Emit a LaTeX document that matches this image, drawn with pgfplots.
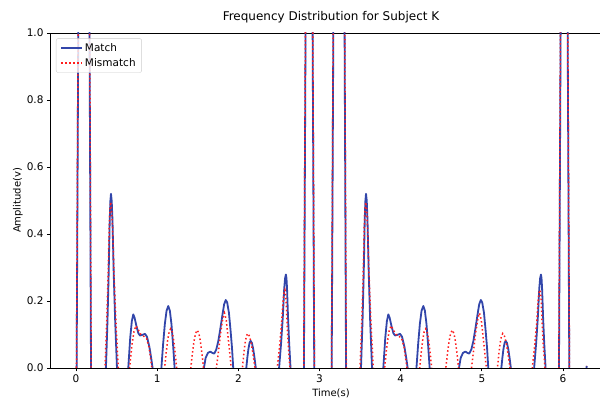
\documentclass[border=0pt]{standalone}
\usepackage{fontspec}
\setmainfont{DejaVu Sans}
\usepackage{pgfplots}
\pgfplotsset{compat=1.18}
\definecolor{matchblue}{RGB}{50,70,170}
\definecolor{mismatchred}{RGB}{255,30,30}
\begin{document}
\begin{tikzpicture}[font=\fontsize{10}{12}\selectfont]
\begin{axis}[
  at={(50.5pt,30pt)}, anchor=south west,
  width=561pt, height=335pt, scale only axis,
  xmin=-0.314, xmax=6.597, ymin=0, ymax=1,
  xtick={0,1,2,3,4,5,6},
  ytick={0,0.2,0.4,0.6,0.8,1.0},
  /pgf/number format/assume math mode=true,
  ticklabel style={font=\fontsize{10.5}{12}\selectfont},
  yticklabel style={/pgf/number format/fixed,/pgf/number format/fixed zerofill,/pgf/number format/precision=1},
  tick align=outside, xtick pos=left, ytick pos=left,
  major tick length=3.5pt,
  tick style={black, line width=0.8pt},
  axis line style={black, line width=0.8pt},
  title={Frequency Distribution for Subject K},
  title style={font=\fontsize{12}{14}\selectfont, at={(axis description cs:0.5,1.018)}, anchor=base},
  xlabel={Time(s)},
  every axis x label/.style={at={(axis description cs:0.5,-0.0746)}, anchor=center},
  ylabel={Amplitude(v)},
  every axis y label/.style={at={(axis description cs:-0.058,0.5)}, anchor=center, rotate=90},
  legend style={at={(axis description cs:0.0098,0.984)}, anchor=north west, draw=black!20, fill=white, fill opacity=0.8, text opacity=1, rounded corners=2pt, font=\fontsize{10.5}{12}\selectfont, inner xsep=4pt, inner ysep=3pt, row sep=1pt, cells={anchor=west}},
  legend image code/.code={\draw[#1] (0pt,0pt) -- (21pt,0pt);},
]
\addplot[matchblue, line width=1.8pt, line join=round] coordinates {
(0.008,0) (0.030,1.1) (0.097,3) (0.165,1.1) (0.185,0)
(0.28,-0.5)
(0.369,0) (0.388,0.140) (0.403,0.286) (0.4155,0.442) (0.4236,0.499) (0.431,0.520) (0.440,0.499) (0.4495,0.442) (0.4643,0.286) (0.4828,0.140) (0.505,0)
(0.575,-0.5)
(0.644,0) (0.668,0.09) (0.688,0.14) (0.706,0.160) (0.722,0.150) (0.745,0.125) (0.768,0.104) (0.788,0.097) (0.82,0.099) (0.85,0.102) (0.875,0.093) (0.905,0.062) (0.925,0.032) (0.944,0)
(1.0,-0.5)
(1.052,0) (1.0732,0.071) (1.0945,0.131) (1.1158,0.171) (1.137,0.185) (1.1565,0.171) (1.176,0.131) (1.1955,0.071) (1.215,0)
(1.40,-0.5)
(1.576,0) (1.597,0.030) (1.625,0.045) (1.655,0.049) (1.68,0.045) (1.703,0.043) (1.728,0.055) (1.753,0.08) (1.78,0.12) (1.805,0.16) (1.825,0.19) (1.845,0.203) (1.862,0.196) (1.884,0.165) (1.905,0.11) (1.922,0.06) (1.937,0)
(2.02,-0.5)
(2.098,0) (2.111,0.031) (2.1245,0.057) (2.138,0.075) (2.151,0.081) (2.167,0.075) (2.183,0.057) (2.199,0.031) (2.215,0)
(2.36,-0.5)
(2.502,0) (2.527,0.075) (2.548,0.153) (2.565,0.237) (2.576,0.268) (2.586,0.279) (2.593,0.268) (2.600,0.237) (2.612,0.153) (2.626,0.075) (2.643,0)
(2.72,-0.5)
(2.808,0) (2.830,1.1) (2.871,3) (2.913,1.1) (2.935,0)
(3.04,-0.5)
(3.150,0) (3.172,1.1) (3.239,3) (3.307,1.1) (3.327,0)
(3.42,-0.5)
(3.511,0) (3.530,0.140) (3.545,0.286) (3.557,0.442) (3.565,0.499) (3.573,0.520) (3.582,0.499) (3.591,0.442) (3.606,0.286) (3.624,0.140) (3.647,0)
(3.717,-0.5)
(3.786,0) (3.810,0.09) (3.830,0.14) (3.848,0.160) (3.864,0.150) (3.887,0.125) (3.910,0.104) (3.930,0.097) (3.962,0.099) (3.992,0.102) (4.017,0.093) (4.047,0.062) (4.067,0.032) (4.086,0)
(4.14,-0.5)
(4.194,0) (4.215,0.071) (4.236,0.131) (4.257,0.171) (4.279,0.185) (4.298,0.171) (4.318,0.131) (4.337,0.071) (4.357,0)
(4.54,-0.5)
(4.718,0) (4.739,0.030) (4.767,0.045) (4.797,0.049) (4.822,0.045) (4.845,0.043) (4.870,0.055) (4.895,0.08) (4.922,0.12) (4.947,0.16) (4.967,0.19) (4.987,0.203) (5.004,0.196) (5.026,0.165) (5.047,0.11) (5.064,0.06) (5.079,0)
(5.16,-0.5)
(5.240,0) (5.253,0.031) (5.266,0.057) (5.280,0.075) (5.293,0.081) (5.309,0.075) (5.325,0.057) (5.341,0.031) (5.357,0)
(5.50,-0.5)
(5.644,0) (5.669,0.075) (5.690,0.153) (5.707,0.237) (5.718,0.268) (5.728,0.279) (5.735,0.268) (5.742,0.237) (5.754,0.153) (5.768,0.075) (5.785,0)
(5.86,-0.5)
(5.950,0) (5.972,1.1) (6.013,3) (6.055,1.1) (6.077,0)
(6.18,-0.5) (6.286,-0.02) (6.291,0.006)
};
\addlegendentry{Match}
\addplot[mismatchred, line width=1.5pt, dash pattern=on 1.5pt off 2.5pt] coordinates {
(0.006,0) (0.028,1.1) (0.097,3) (0.167,1.1) (0.188,0)
(0.27,-0.5)
(0.357,0) (0.378,0.134) (0.3955,0.272) (0.4095,0.421) (0.4186,0.475) (0.427,0.495) (0.4383,0.475) (0.4505,0.421) (0.4693,0.272) (0.4928,0.134) (0.521,0)
(0.59,-0.5)
(0.660,0) (0.69,0.07) (0.715,0.11) (0.739,0.126) (0.765,0.115) (0.80,0.10) (0.84,0.094) (0.87,0.088) (0.90,0.062) (0.935,0)
(1.01,-0.5)
(1.092,0) (1.1105,0.045) (1.129,0.083) (1.1475,0.108) (1.166,0.117) (1.1845,0.108) (1.203,0.083) (1.2215,0.045) (1.240,0)
(1.33,-0.5)
(1.414,0) (1.434,0.043) (1.454,0.080) (1.474,0.104) (1.494,0.113) (1.513,0.104) (1.5325,0.080) (1.552,0.043) (1.571,0)
(1.65,-0.5)
(1.730,0) (1.76,0.06) (1.785,0.11) (1.81,0.15) (1.829,0.164) (1.85,0.145) (1.87,0.10) (1.89,0.055) (1.913,0)
(1.98,-0.5)
(2.050,0) (2.066,0.039) (2.0825,0.073) (2.099,0.095) (2.115,0.103) (2.1375,0.095) (2.16,0.073) (2.1825,0.039) (2.205,0)
(2.34,-0.5)
(2.479,0) (2.5075,0.063) (2.5313,0.128) (2.5503,0.198) (2.5626,0.224) (2.574,0.233) (2.5813,0.224) (2.5893,0.198) (2.6015,0.128) (2.6167,0.063) (2.635,0)
(2.72,-0.5)
(2.806,0) (2.828,1.1) (2.871,3) (2.915,1.1) (2.937,0)
(3.04,-0.5)
(3.148,0) (3.170,1.1) (3.239,3) (3.309,1.1) (3.330,0)
(3.42,-0.5)
(3.499,0) (3.520,0.134) (3.537,0.272) (3.551,0.421) (3.560,0.475) (3.569,0.495) (3.580,0.475) (3.592,0.421) (3.611,0.272) (3.634,0.134) (3.663,0)
(3.73,-0.5)
(3.802,0) (3.832,0.07) (3.857,0.11) (3.881,0.126) (3.907,0.115) (3.942,0.10) (3.982,0.094) (4.012,0.088) (4.042,0.062) (4.077,0)
(4.15,-0.5)
(4.234,0) (4.252,0.045) (4.271,0.083) (4.289,0.108) (4.308,0.117) (4.326,0.108) (4.345,0.083) (4.363,0.045) (4.382,0)
(4.47,-0.5)
(4.556,0) (4.576,0.043) (4.596,0.080) (4.616,0.104) (4.636,0.113) (4.655,0.104) (4.674,0.080) (4.694,0.043) (4.713,0)
(4.79,-0.5)
(4.872,0) (4.902,0.06) (4.927,0.11) (4.952,0.15) (4.971,0.164) (4.992,0.145) (5.012,0.10) (5.032,0.055) (5.055,0)
(5.12,-0.5)
(5.192,0) (5.208,0.039) (5.224,0.073) (5.241,0.095) (5.257,0.103) (5.279,0.095) (5.302,0.073) (5.324,0.039) (5.347,0)
(5.48,-0.5)
(5.621,0) (5.649,0.063) (5.673,0.128) (5.692,0.198) (5.704,0.224) (5.716,0.233) (5.723,0.224) (5.731,0.198) (5.743,0.128) (5.758,0.063) (5.777,0)
(5.86,-0.5)
(5.948,0) (5.970,1.1) (6.013,3) (6.057,1.1) (6.079,0)
(6.18,-0.5) (6.286,-0.02) (6.291,0.006)
};
\addlegendentry{Mismatch}
\end{axis}
\pgfresetboundingbox
\useasboundingbox (0,0) rectangle (600pt,398pt);
\end{tikzpicture}
\end{document}
